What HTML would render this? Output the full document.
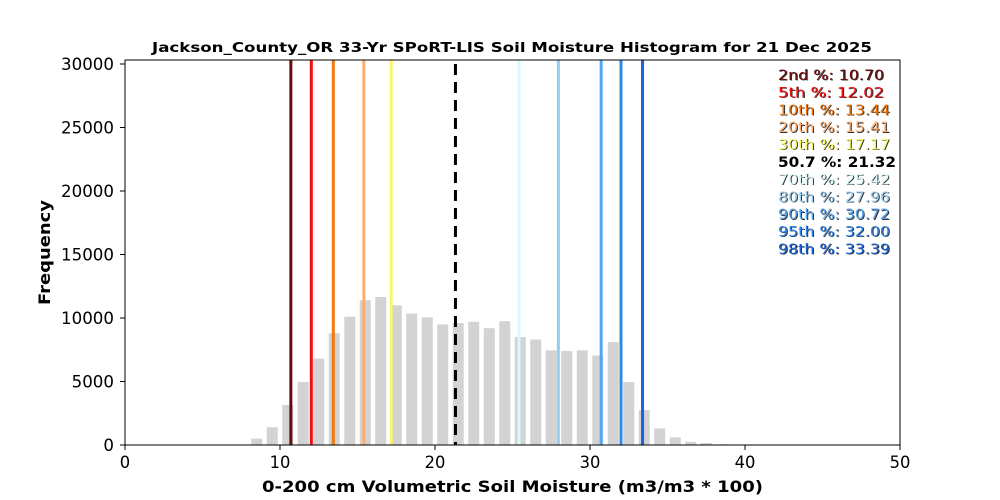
<!DOCTYPE html>
<html><head><meta charset="utf-8"><style>body{margin:0;background:#fff}svg{display:block;font-family:"DejaVu Sans","Liberation Sans",sans-serif}</style></head><body>
<svg width="1000" height="500" xmlns="http://www.w3.org/2000/svg">
<rect width="1000" height="500" fill="#fff"/>
<g id="bars" fill="#d3d3d3"></g>
<g id="lines"></g>
<rect x="125" y="60" width="775" height="385" fill="none" stroke="#000" stroke-width="1"/>
<g id="ticks" font-size="17" fill="#000"></g>
<text x="152" y="52" font-size="13.5" font-weight="bold" textLength="720" lengthAdjust="spacingAndGlyphs">Jackson_County_OR 33-Yr SPoRT-LIS Soil Moisture Histogram for 21 Dec 2025</text>
<text x="262" y="492" font-size="16" font-weight="bold" textLength="501" lengthAdjust="spacingAndGlyphs">0-200 cm Volumetric Soil Moisture (m3/m3 * 100)</text>
<text transform="translate(50,305) rotate(-90)" font-size="16" font-weight="bold" textLength="105" lengthAdjust="spacingAndGlyphs">Frequency</text>
<g id="leg" font-size="14"></g>
</svg>
<script>
const X=v=>125+v*15.5, Y=v=>445-v*0.0127, NS="http://www.w3.org/2000/svg";
function el(p,t,a,txt){const e=document.createElementNS(NS,t);for(const k in a)e.setAttribute(k,a[k]);if(txt!=null)e.textContent=txt;document.getElementById(p).appendChild(e);return e;}
const h=[500,1400,3150,4950,6800,8800,10100,11400,11650,11000,10350,10050,9500,9600,9700,9200,9750,8500,8300,7450,7400,7450,7050,8100,4950,2750,1300,600,250,150,50];
h.forEach((v,i)=>{const c=8.5+i;el("bars","rect",{x:X(c)-5.5,y:Y(v),width:11,height:445-Y(v)});});
const L=[["2nd",10.70,"#6b0a0a"],["5th",12.02,"#f01010"],["10th",13.44,"#f07a10"],["20th",15.41,"#fbad70"],["30th",17.17,"#fafa60"],["50.7",21.32,"#000"],["70th",25.42,"#d8fafa"],["80th",27.96,"#98cdf0"],["90th",30.72,"#55a5f5"],["95th",32.00,"#2f88f0"],["98th",33.39,"#1a64d8"]];
L.forEach((l,i)=>{const x=X(l[1]);
if(l[0]=="50.7")el("lines","line",{x1:x,x2:x,y1:64,y2:445,stroke:"#000","stroke-width":3,"stroke-dasharray":"11,7"});
else el("lines","line",{x1:x,x2:x,y1:60,y2:445,stroke:l[2],"stroke-width":3});
const y=80+i*17.4, t=l[0]+" %: "+l[1].toFixed(2), w=(l[0].length==3?106:112);
if(l[0]=="50.7")el("leg","text",{x:778,y:y,"font-weight":"bold",fill:"#000",textLength:118,lengthAdjust:"spacingAndGlyphs"},t);
else{el("leg","text",{x:779,y:y+0.6,fill:"#333",textLength:w,lengthAdjust:"spacingAndGlyphs"},t);el("leg","text",{x:778,y:y,fill:l[2],textLength:w,lengthAdjust:"spacingAndGlyphs"},t);}
});
for(let v=0;v<=50;v+=10){const x=X(v),s=String(v),w=s.length*10.4;el("ticks","line",{x1:x,x2:x,y1:445,y2:450,stroke:"#000"});el("ticks","text",{x:x-w/2,y:468,textLength:w,lengthAdjust:"spacingAndGlyphs"},s);}
for(let v=0;v<=30000;v+=5000){const y=Y(v),s=String(v),w=s.length*10.6;el("ticks","line",{x1:120,x2:125,y1:y,y2:y,stroke:"#000"});el("ticks","text",{x:114-w,y:y+6,textLength:w,lengthAdjust:"spacingAndGlyphs"},s);}
</script>
</body></html>
